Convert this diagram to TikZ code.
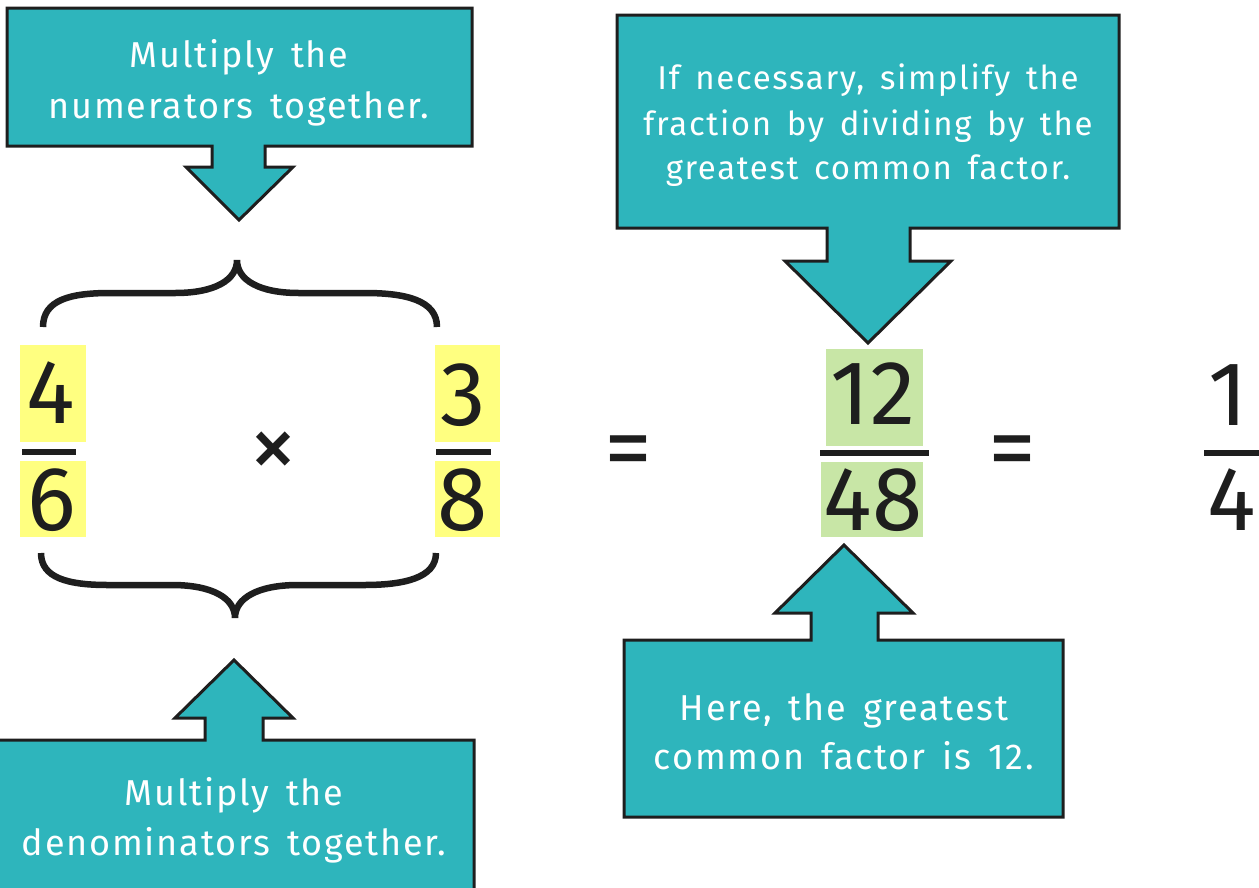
\documentclass[tikz,border=0pt]{standalone}
\usepackage{fontspec}
\setmainfont{Fira Sans}
\newfontfamily\callfont{Fira Sans}[LetterSpace=5,WordSpace=1.5]
\definecolor{calloutteal}{HTML}{2EB5BC}
\definecolor{edgeblack}{HTML}{1E1E1E}
\definecolor{numyellow}{HTML}{FFFF80}
\definecolor{numgreen}{HTML}{C8E6A6}
\tikzset{
  callout/.style={fill=calloutteal, draw=edgeblack, line width=3pt, line join=miter},
  bigtext/.style={text=white, font=\callfont\fontsize{36}{44}\selectfont, anchor=base, inner sep=0pt},
  midtext/.style={text=white, font=\callfont\fontsize{33}{40}\selectfont, anchor=base, inner sep=0pt},
  digit/.style={text=edgeblack, font=\fontsize{91}{100}\selectfont, anchor=base, inner sep=0pt},
  symb/.style={text=edgeblack, font=\fontsize{96}{100}\selectfont, inner sep=0pt},
  fracbar/.style={draw=edgeblack, line width=6.5pt},
  brace/.style={draw=edgeblack, line width=6.5pt, line cap=butt}
}
\begin{document}
\begin{tikzpicture}[x=1pt,y=-1pt]
\useasboundingbox (0,0) rectangle (1259,887);
\clip (0,0) rectangle (1259,887);

% top-left callout
\draw[callout] (7,8) -- (472,8) -- (472,146) -- (265,146) -- (265,167) -- (293,167)
  -- (239,220) -- (186,167) -- (212,167) -- (212,146) -- (7,146) -- cycle;
\node[bigtext] (tl1) at (239,67) {Multiply the};
\node[bigtext] (tl2) at (239,118) {numerators together.};

% top-right callout
\draw[callout] (617,15) -- (1119,15) -- (1119,228) -- (910,228) -- (910,261) -- (951,261)
  -- (868,343) -- (785,261) -- (827,261) -- (827,228) -- (617,228) -- cycle;
\node[midtext] (tr1) at (868,89) {If necessary, simplify the};
\node[midtext] (tr2) at (868,135) {fraction by dividing by the};
\node[midtext] (tr3) at (868,179) {greatest common factor.};

% bottom-left callout
\draw[callout] (-10,740) -- (205,740) -- (205,718) -- (175,718) -- (234,660) -- (293,718)
  -- (263,718) -- (263,740) -- (474,740) -- (474,900) -- (-10,900) -- cycle;
\node[bigtext] (bl1) at (234,805) {Multiply the};
\node[bigtext] (bl2) at (234,855) {denominators together.};

% bottom-right callout
\draw[callout] (624,640) -- (811,640) -- (811,613) -- (775,613) -- (844,545) -- (913,613)
  -- (878,613) -- (878,640) -- (1063,640) -- (1063,817) -- (624,817) -- cycle;
\node[bigtext] (br1) at (844,720) {Here, the greatest};
\node[bigtext] (br2) at (844,769) {common factor is 12.};

% braces
\draw[brace] (43,327) .. controls (43,300) and (70,293) .. (110,293) -- (175,293)
  .. controls (215,293) and (237,280) .. (237,260)
  .. controls (237,280) and (259,293) .. (299,293) -- (365,293)
  .. controls (405,293) and (437,300) .. (437,327);
\draw[brace] (41,553) .. controls (41,578) and (68,585) .. (108,585) -- (172,585)
  .. controls (212,585) and (235,598) .. (235,618)
  .. controls (235,598) and (258,585) .. (298,585) -- (364,585)
  .. controls (404,585) and (436,578) .. (436,553);

% highlight boxes
\fill[numyellow] (20,345) rectangle (86,442);
\fill[numyellow] (20,461) rectangle (86,537);
\fill[numyellow] (435,345) rectangle (500,442);
\fill[numyellow] (435,461) rectangle (500,537);
\fill[numgreen] (826,349) rectangle (923,446);
\fill[numgreen] (821,462) rectangle (923,537);

% fraction bars
\draw[fracbar] (22,452) -- (76,452);
\draw[fracbar] (436,452) -- (491,452);
\draw[fracbar] (820,453) -- (929,453);
\draw[fracbar] (1204,453) -- (1265,453);

% digits
\node[digit] (n1) at (51,423) {4};
\node[digit] (d1) at (52,530) {6};
\node[digit] (n2) at (463,425) {3};
\node[digit] (d2) at (463,530) {8};
\node[digit] (n3) at (873,424) {12};
\node[digit] (d3) at (873,530) {48};
\node[digit] (n4) at (1228,425) {1};
\node[digit] (d4) at (1232,530) {4};

% symbols
\node[symb] (times) at (273,455) {×};
\node[symb] (eq1) at (628,458) {=};
\node[symb] (eq2) at (1012,458) {=};
\end{tikzpicture}
\end{document}
